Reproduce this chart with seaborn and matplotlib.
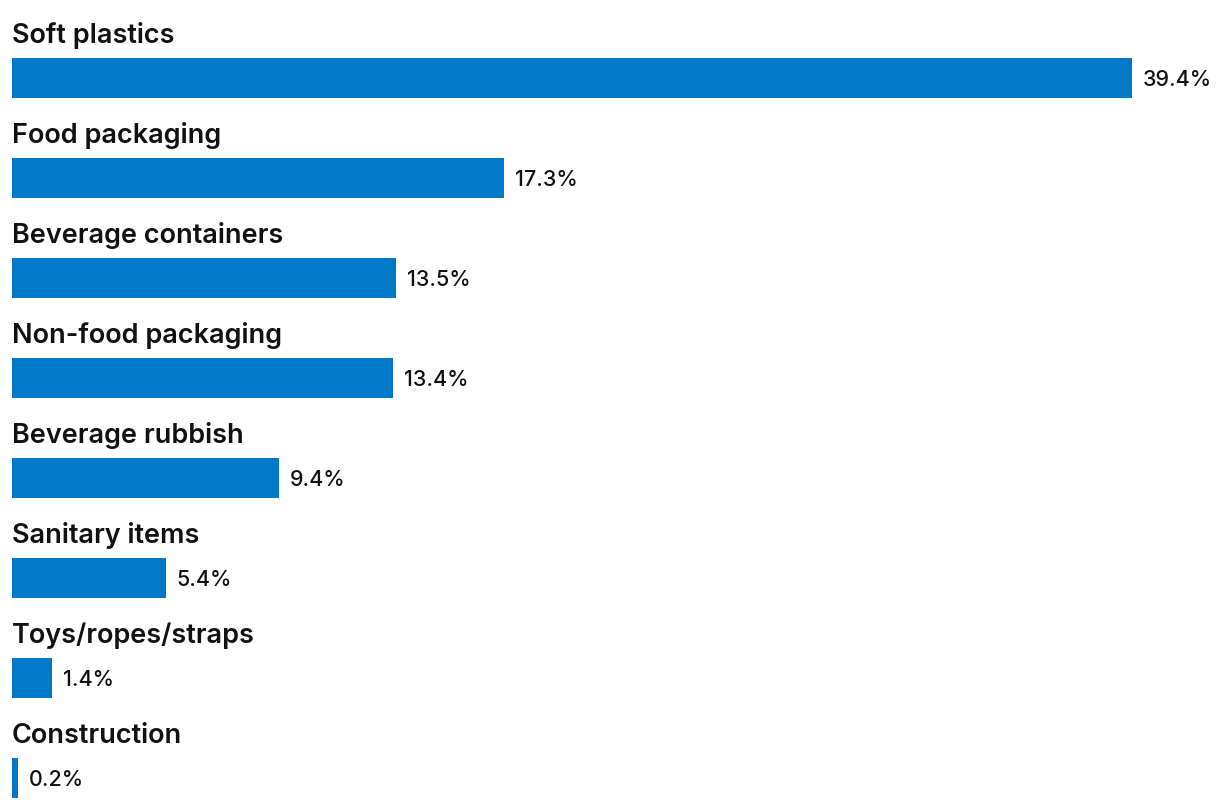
import matplotlib
matplotlib.use("Agg")
import matplotlib.pyplot as plt
import seaborn as sns
import pandas as pd

categories = ["Soft plastics", "Food packaging", "Beverage containers", "Non-food packaging",
              "Beverage rubbish", "Sanitary items", "Toys/ropes/straps", "Construction"]
values = [39.4, 17.3, 13.5, 13.4, 9.4, 5.4, 1.4, 0.2]

sns.set_theme(style="white")
plt.rcParams['font.family'] = ['Inter', 'DejaVu Sans']

df = pd.DataFrame({"category": categories, "value": values})

W, H = 1220, 808
fig = plt.figure(figsize=(W / 100, H / 100), dpi=100)
left_px = 12
ax = fig.add_axes([left_px / W, 0, 1 - left_px / W, 1])

sns.barplot(data=df, x="value", y="category", orient="h", color="#0079C8",
            width=0.4, saturation=1, linewidth=0, ax=ax)

px_per_unit = (1132 - 12) / 39.4
ax.set_xlim(0, (W - left_px) / px_per_unit)
ax.set_ylim((H - 78) / 100, -0.78)
ax.axis("off")

gap = 11 / px_per_unit
for i, (c, v) in enumerate(zip(categories, values)):
    ax.text(0, i - 0.35, c, fontsize=19.5, fontweight="semibold", color="#111111",
            va="baseline", ha="left")
    ax.text(v + gap, i + 0.08, f"{v}%", fontsize=15.5, fontweight="medium", color="#111111",
            va="baseline", ha="left")

fig.savefig("out.png", dpi=100)
